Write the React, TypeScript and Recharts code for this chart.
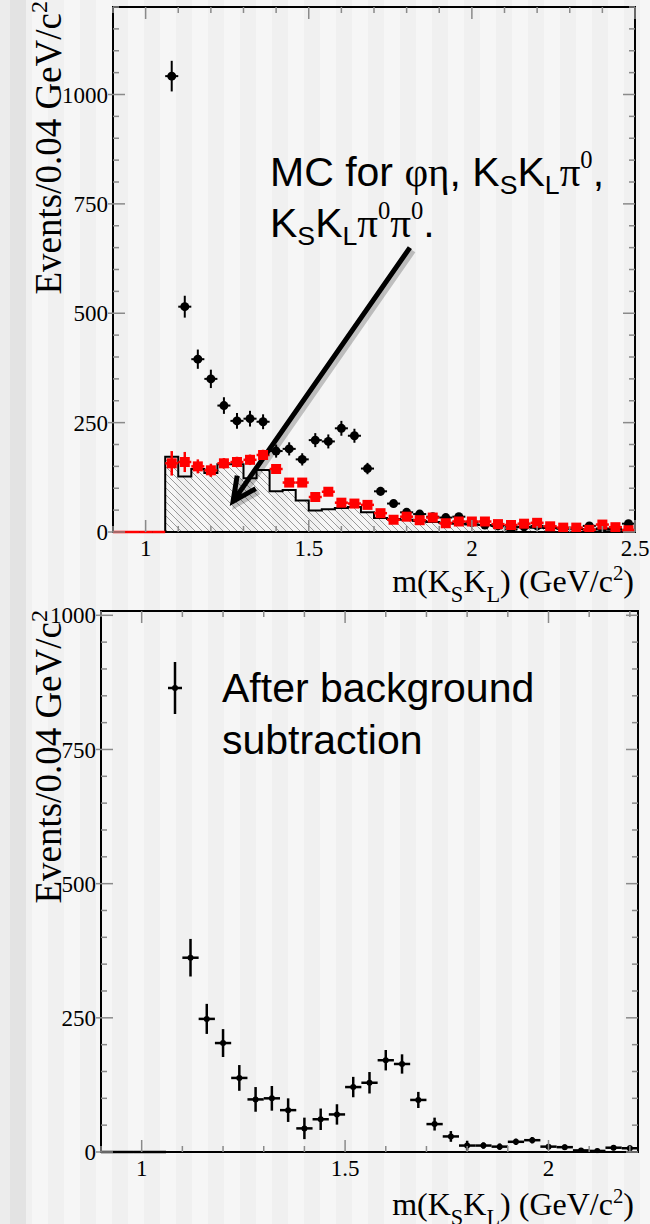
import React from 'react';
import {
  ComposedChart,
  Scatter,
  Area,
  XAxis,
  YAxis,
  ErrorBar,
  ReferenceLine,
  ReferenceArea,
  Legend,
} from 'recharts';

// ---------- top panel: data (black), MC phi-eta etc. (red), total MC (hatched) ----------
const topCenters = [1.08, 1.12, 1.16, 1.2, 1.24, 1.28, 1.32, 1.36, 1.4, 1.44, 1.48, 1.52, 1.56, 1.6, 1.64, 1.68, 1.72, 1.76, 1.8, 1.84, 1.88, 1.92, 1.96, 2, 2.04, 2.08, 2.12, 2.16, 2.2, 2.24, 2.28, 2.32, 2.36, 2.4, 2.44, 2.48];
const topCounts = [1042, 515, 395, 350, 289, 254, 259, 252, 185, 190, 166, 210, 207, 237, 220, 145, 93, 65, 45, 41, 35, 33, 35, 22, 16, 14, 6, 12, 14, 10, 8, 8, 14, 8, 8, 19];
const topErrors = [35, 25, 22, 21, 19, 18, 18, 17, 15, 15, 14, 16, 16, 17, 16, 13, 10, 8, 7, 7, 6, 6, 6, 5, 4, 4, 3, 4, 4, 3, 3, 3, 4, 3, 3, 4];

const bkgCenters = [0.92, 0.96, 1, 1.04, 1.08, 1.12, 1.16, 1.2, 1.24, 1.28, 1.32, 1.36, 1.4, 1.44, 1.48, 1.52, 1.56, 1.6, 1.64, 1.68, 1.72, 1.76, 1.8, 1.84, 1.88, 1.92, 1.96, 2, 2.04, 2.08, 2.12, 2.16, 2.2, 2.24, 2.28, 2.32, 2.36, 2.4, 2.44, 2.48];
const bkgCounts = [0, 0, 0, 0, 157, 160, 150, 141, 157, 160, 165, 176, 144, 113, 113, 80, 92, 67, 65, 62, 43, 28, 35, 27, 33, 20, 24, 24, 24, 18, 16, 19, 21, 13, 10, 10, 5, 17, 11, 4];
const bkgErrors = [0, 0, 0, 0, 28, 23, 16, 15, 12, 12, 12, 12, 10, 9, 9, 8, 8, 7, 7, 7, 6, 5, 5, 5, 5, 4, 4, 4, 4, 4, 4, 4, 4, 3, 3, 3, 2, 4, 3, 2];

const mcEdges = [1.06, 1.1, 1.14, 1.18, 1.22, 1.26, 1.3, 1.34, 1.38, 1.42, 1.46, 1.5, 1.54, 1.58, 1.62, 1.66, 1.7, 1.74, 1.78, 1.82, 1.86, 1.9, 1.94, 1.98, 2.02, 2.06, 2.1, 2.14, 2.18, 2.22, 2.26, 2.3, 2.34, 2.38, 2.42, 2.46, 2.5];
const mcCounts = [172, 127, 144, 135, 155, 155, 123, 142, 93, 96, 72, 49, 52, 55, 57, 45, 32, 30, 28, 25, 23, 21, 19, 17, 16, 14, 12, 11, 10, 9, 8, 7, 6, 6, 5, 5];

// ---------- bottom panel: after background subtraction ----------
const subCenters = [0.92, 0.96, 1, 1.04, 1.12, 1.16, 1.2, 1.24, 1.28, 1.32, 1.36, 1.4, 1.44, 1.48, 1.52, 1.56, 1.6, 1.64, 1.68, 1.72, 1.76, 1.8, 1.84, 1.88, 1.92, 1.96, 2, 2.04, 2.08, 2.12, 2.16, 2.2];
const subCounts = [0, 0, 0, 0, 362, 248, 203, 138, 98, 100, 78, 44, 61, 70, 121, 129, 171, 164, 97, 52, 29, 12, 12, 10, 19, 22, 10, 9, 3, 2, 8, 7];
const subErrors = [0, 0, 0, 0, 35, 28, 26, 24, 23, 23, 22, 20, 20, 19, 19, 20, 19, 18, 15, 12, 10, 9, 6, 6, 6, 6, 5, 5, 4, 4, 5, 5];

const HALF_BIN = 0.02;

// ---------- axes ----------
const xTicksTop = [0.9, 1, 1.1, 1.2, 1.3, 1.4, 1.5, 1.6, 1.7, 1.8, 1.9, 2, 2.1, 2.2, 2.3, 2.4, 2.5];
const xTicksBottom = [0.9, 1, 1.1, 1.2, 1.3, 1.4, 1.5, 1.6, 1.7, 1.8, 1.9, 2, 2.1, 2.2];
const yTicksTop = [0, 50, 100, 150, 200, 250, 300, 350, 400, 450, 500, 550, 600, 650, 700, 750, 800, 850, 900, 950, 1000, 1050, 1100, 1150, 1200];
const yTicksBottom = [0, 50, 100, 150, 200, 250, 300, 350, 400, 450, 500, 550, 600, 650, 700, 750, 800, 850, 900, 950, 1000];
const xLabels = ['1', '1.5', '2', '2.5'];
const yLabels = ['0', '250', '500', '750', '1000'];

// annotation arrow, in data units of the top panel
const arrowFrom = { x: 1.81, y: 650 };
const arrowTo = { x: 1.268, y: 70 };

const rows = (xs: number[], ys: number[], es: number[]) =>
  xs.map((x, i) => ({ x, y: ys[i], ey: es[i], ex: HALF_BIN }));

const topRows = rows(topCenters, topCounts, topErrors);
const bkgRows = rows(bkgCenters, bkgCounts, bkgErrors);
const subRows = rows(subCenters, subCounts, subErrors);
const mcSteps = [
  { x: mcEdges[0], y: 0 },
  ...mcEdges.map((x, i) => ({ x, y: mcCounts[Math.min(i, mcCounts.length - 1)] })),
];

const serif = '"Liberation Serif", "DejaVu Serif", serif';
const sans = '"Liberation Sans", Arial, sans-serif';
const tickColor = '#8a8a8a';

type Box = { left: number; right: number; top: number; bottom: number };

const TOP_BOX: Box = { left: 113, right: 635, top: 7, bottom: 532 };
const BOT_BOX: Box = { left: 101, right: 638, top: 11, bottom: 552 };

function xTick(box: Box) {
  return function XTick(props: any) {
    const x = props.payload.coordinate;
    const txt = String(props.payload.value);
    const major = xLabels.includes(txt);
    const len = major ? 12 : 6;
    return (
      <g>
        <line x1={x} x2={x} y1={box.bottom} y2={box.bottom - len} stroke={tickColor} strokeWidth={1.5} />
        <line x1={x} x2={x} y1={box.top} y2={box.top + len} stroke={tickColor} strokeWidth={1.5} />
        {major && (
          <text x={x} y={box.bottom + 24} textAnchor="middle" fontFamily={serif} fontSize={23} fill="#000">
            {txt}
          </text>
        )}
      </g>
    );
  };
}

function yTick(box: Box) {
  return function YTick(props: any) {
    const y = props.payload.coordinate;
    const txt = String(props.payload.value);
    const major = yLabels.includes(txt);
    const len = major ? 12 : 6;
    return (
      <g>
        <line x1={box.left - (major ? 5 : 0)} x2={box.left + len} y1={y} y2={y} stroke={tickColor} strokeWidth={1.5} />
        <line x1={box.right} x2={box.right - len} y1={y} y2={y} stroke={tickColor} strokeWidth={1.5} />
        {major && (
          <text x={box.left - 5} y={y} dy="0.35em" textAnchor="end" fontFamily={serif} fontSize={23} fill="#000">
            {txt}
          </text>
        )}
      </g>
    );
  };
}

const BlackDot = (p: any) => <circle cx={p.cx} cy={p.cy} r={4.5} fill="#000" />;
const RedSquare = (p: any) =>
  p.payload && p.payload.y === 0 ? <g /> : <rect x={p.cx - 5} y={p.cy - 5} width={10} height={10} fill="#ff0000" />;
const SmallDot = (p: any) =>
  p.payload && p.payload.y === 0 ? <g /> : <circle cx={p.cx} cy={p.cy} r={3} fill="#000" />;

function ArrowShape(props: any) {
  const { x1, y1, x2, y2 } = props;
  const a = Math.atan2(y2 - y1, x2 - x1);
  const L = 26;
  const s = 0.45;
  const hx1 = x2 - L * Math.cos(a - s);
  const hy1 = y2 - L * Math.sin(a - s);
  const hx2 = x2 - L * Math.cos(a + s);
  const hy2 = y2 - L * Math.sin(a + s);
  const d = `M${x1},${y1} L${x2},${y2} M${hx1},${hy1} L${x2},${y2} L${hx2},${hy2}`;
  return (
    <g>
      <path d={d} transform="translate(3,3)" stroke="rgba(0,0,0,0.22)" strokeWidth={6} fill="none" />
      <path d={d} stroke="#000" strokeWidth={5} fill="none" />
    </g>
  );
}

const Sub = ({ children }: { children: React.ReactNode }) => (
  <span style={{ fontSize: '0.65em', position: 'relative', top: '0.3em', lineHeight: 0 }}>{children}</span>
);
const Sup = ({ children }: { children: React.ReactNode }) => (
  <span style={{ fontSize: '0.6em', fontFamily: serif, position: 'relative', top: '-0.75em', lineHeight: 0 }}>{children}</span>
);
const Greek = ({ children }: { children: React.ReactNode }) => <span style={{ fontFamily: serif }}>{children}</span>;

function SubLegend() {
  return (
    <div style={{ position: 'relative', width: 440, height: 120 }}>
      <svg width={30} height={60} style={{ position: 'absolute', left: 0, top: 18 }}>
        <line x1={15} x2={15} y1={4} y2={56} stroke="#000" strokeWidth={2.5} />
        <line x1={8} x2={22} y1={30} y2={30} stroke="#000" strokeWidth={2.5} />
        <circle cx={15} cy={30} r={3} fill="#000" />
      </svg>
      <div style={{ position: 'absolute', left: 62, top: 22, fontFamily: sans, fontSize: 41, lineHeight: '52px', color: '#000', whiteSpace: 'nowrap' }}>
        After background
        <br />
        subtraction
      </div>
    </div>
  );
}

function TopPanel() {
  return (
    <ComposedChart width={650} height={610} margin={{ top: 7, right: 15, bottom: 38, left: 53 }}>
      <defs>
        <pattern id="hatch" patternUnits="userSpaceOnUse" width={7} height={7}>
          <path d="M-1,-1 L8,8 M-1,6 L1,8 M6,-1 L8,1" stroke="#8e8e8e" strokeWidth={0.9} />
        </pattern>
      </defs>
      <XAxis dataKey="x" type="number" domain={[0.9, 2.5]} allowDataOverflow ticks={xTicksTop} interval={0}
        tick={xTick(TOP_BOX)} tickLine={false} axisLine={false} height={40} />
      <YAxis type="number" domain={[0, 1200]} allowDataOverflow ticks={yTicksTop} interval={0}
        tick={yTick(TOP_BOX)} tickLine={false} axisLine={false} width={60} />
      <Area data={mcSteps} dataKey="y" type="stepAfter" stroke="#000" strokeWidth={2} fill="url(#hatch)"
        fillOpacity={1} dot={false} activeDot={false} isAnimationActive={false} />
      <Scatter data={topRows} dataKey="y" shape={BlackDot} isAnimationActive={false}>
        <ErrorBar dataKey="ey" direction="y" width={0} stroke="#000" strokeWidth={2} />
        <ErrorBar dataKey="ex" direction="x" width={0} stroke="#000" strokeWidth={2} />
      </Scatter>
      <Scatter data={bkgRows} dataKey="y" shape={RedSquare} isAnimationActive={false}>
        <ErrorBar dataKey="ey" direction="y" width={0} stroke="#ff0000" strokeWidth={2.5} />
        <ErrorBar dataKey="ex" direction="x" width={0} stroke="#ff0000" strokeWidth={2.5} />
      </Scatter>
      <ReferenceLine segment={[arrowFrom, arrowTo]} shape={ArrowShape} />
      <ReferenceArea x1={0.9} x2={2.5} y1={0} y2={1200} fill="none" stroke="#000" strokeWidth={2} />
    </ComposedChart>
  );
}

function BottomPanel() {
  return (
    <ComposedChart width={650} height={624} margin={{ top: 11, right: 12, bottom: 32, left: 41 }}>
      <XAxis dataKey="x" type="number" domain={[0.9, 2.22]} allowDataOverflow ticks={xTicksBottom} interval={0}
        tick={xTick(BOT_BOX)} tickLine={false} axisLine={false} height={40} />
      <YAxis type="number" domain={[0, 1008]} allowDataOverflow ticks={yTicksBottom} interval={0}
        tick={yTick(BOT_BOX)} tickLine={false} axisLine={false} width={60} />
      <Scatter data={subRows} dataKey="y" shape={SmallDot} isAnimationActive={false}>
        <ErrorBar dataKey="ey" direction="y" width={0} stroke="#000" strokeWidth={2.5} />
        <ErrorBar dataKey="ex" direction="x" width={0} stroke="#000" strokeWidth={2.5} />
      </Scatter>
      <Legend layout="horizontal" verticalAlign="middle" align="center" content={SubLegend}
        wrapperStyle={{ left: 160, top: 40, width: 440, height: 120 }} />
      <ReferenceArea x1={0.9} x2={2.22} y1={0} y2={1008} fill="none" stroke="#000" strokeWidth={2} />
    </ComposedChart>
  );
}

const yTitleStyle = (top: number): React.CSSProperties => ({
  position: 'absolute',
  left: 30,
  top,
  width: 420,
  textAlign: 'right',
  transform: 'rotate(-90deg)',
  transformOrigin: '0 0',
  fontFamily: serif,
  fontSize: 37,
  lineHeight: '37px',
  whiteSpace: 'nowrap',
  color: '#000',
});

const xTitleStyle = (top: number): React.CSSProperties => ({
  position: 'absolute',
  right: 16,
  top,
  fontFamily: serif,
  fontSize: 32,
  lineHeight: '32px',
  whiteSpace: 'nowrap',
  color: '#000',
});

const XTitle = () => (
  <>
    m(K<span style={{ fontSize: '0.7em', position: 'relative', top: '0.45em', lineHeight: 0 }}>S</span>K
    <span style={{ fontSize: '0.7em', position: 'relative', top: '0.45em', lineHeight: 0 }}>L</span>) (GeV/c
    <span style={{ fontSize: '0.65em', position: 'relative', top: '-0.6em', lineHeight: 0 }}>2</span>)
  </>
);

const YTitle = () => (
  <>
    Events/0.04 GeV/c<span style={{ fontSize: '0.65em', position: 'relative', top: '-0.6em', lineHeight: 0 }}>2</span>
  </>
);

export default function App() {
  return (
    <div
      style={{
        position: 'absolute',
        left: 0,
        top: 0,
        width: 650,
        height: 1224,
        overflow: 'hidden',
        background:
          'linear-gradient(90deg, #ececec 0px, #ececec 10px, #e3e3e3 10px, #e3e3e3 26px, transparent 26px), repeating-linear-gradient(90deg, #f6f6f6 0px, #f6f6f6 16px, #f0f0f0 16px, #f0f0f0 32px)',
      }}
    >
      <div style={{ position: 'absolute', left: 0, top: 0 }}>
        <TopPanel />
      </div>
      <div style={{ position: 'absolute', left: 0, top: 600 }}>
        <BottomPanel />
      </div>

      <div style={{ position: 'absolute', left: 270, top: 147, fontFamily: sans, fontSize: 41, lineHeight: '51px', whiteSpace: 'nowrap', color: '#000' }}>
        <div>
          MC for <Greek>φη</Greek>, K<Sub>S</Sub>K<Sub>L</Sub><Greek>π</Greek><Sup>0</Sup>,
        </div>
        <div>
          K<Sub>S</Sub>K<Sub>L</Sub><Greek>π</Greek><Sup>0</Sup><Greek>π</Greek><Sup>0</Sup>.
        </div>
      </div>

      <div style={yTitleStyle(421)}><YTitle /></div>
      <div style={yTitleStyle(1030)}><YTitle /></div>
      <div style={xTitleStyle(565)}><XTitle /></div>
      <div style={xTitleStyle(1188)}><XTitle /></div>
    </div>
  );
}
